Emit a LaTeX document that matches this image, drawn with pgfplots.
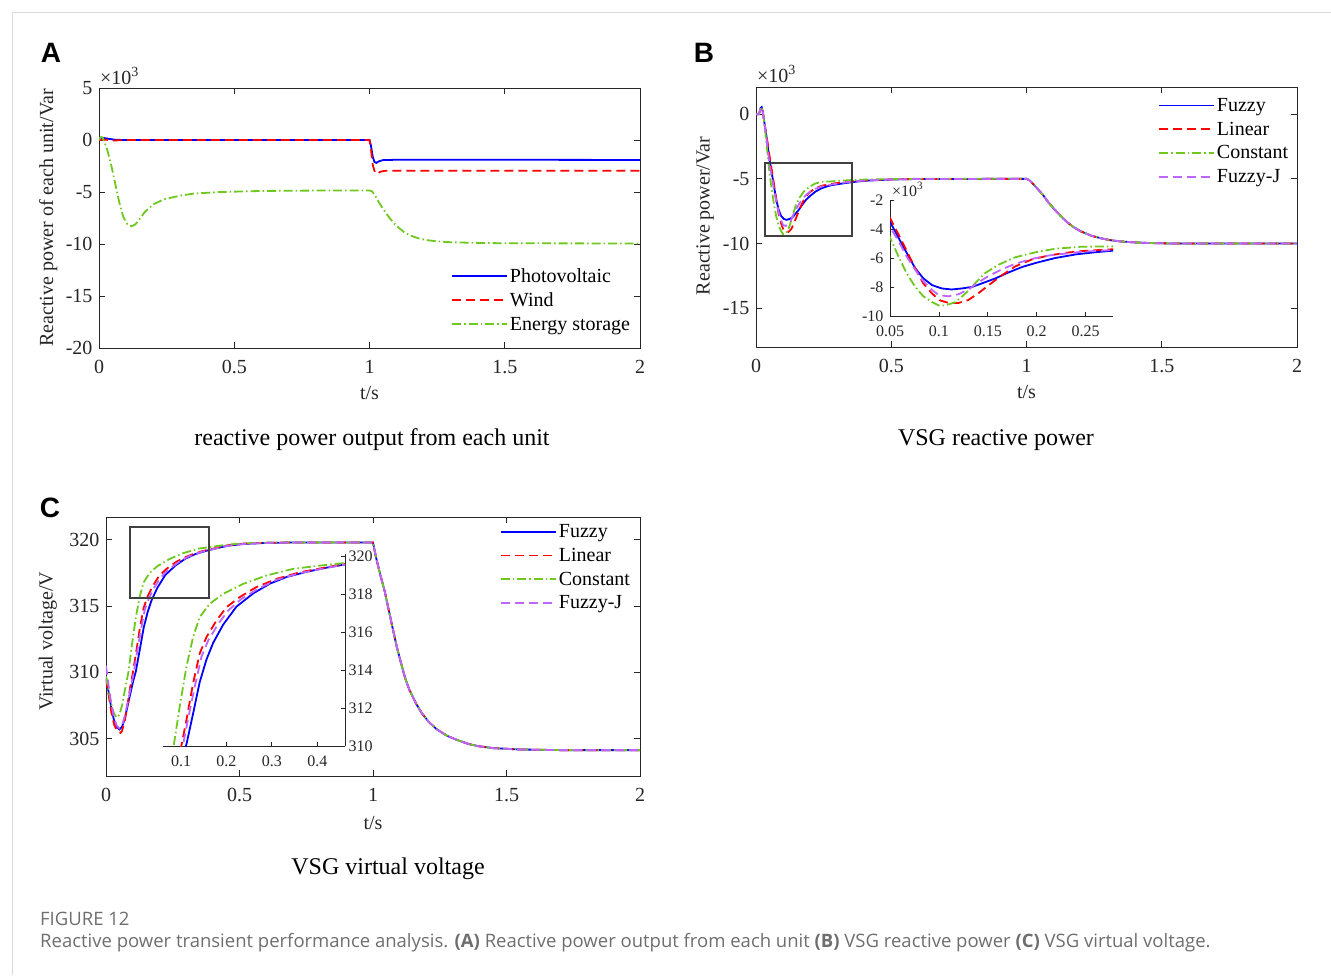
\documentclass[border=0pt]{standalone}
\usepackage{fontspec}
\setmainfont{Liberation Serif}
\newfontfamily\lettfont{Liberation Sans}
\newfontfamily\capfont{Open Sans}
\usepackage{graphicx}
\usepackage{pgfplots}
\usepackage{pgfplotstable}
\pgfplotsset{compat=1.18}

\definecolor{cblue}{RGB}{0,0,255}
\definecolor{cred}{RGB}{255,0,0}
\definecolor{cgreen}{RGB}{110,200,30}
\definecolor{cpurple}{RGB}{190,100,255}
\definecolor{axgray}{RGB}{38,38,38}
\definecolor{capgray}{RGB}{110,110,110}

\pgfplotsset{
  mat/.style={
    scale only axis,
    axis line style={axgray, line width=0.8pt},
    tick style={axgray, line width=0.8pt},
    tick align=inside, major tick length=6pt,
    xtick pos=both, ytick pos=both,
    ticklabel style={font=\fontsize{20}{22}\selectfont, text=axgray},
    xticklabel style={yshift=-9pt},
    yticklabel style={xshift=-3pt},
    label style={font=\fontsize{20}{22}\selectfont, text=axgray},
    /pgf/number format/assume math mode=true,
    /pgf/number format/fixed,
    legend cell align=left,
    legend style={draw=none, fill=none, font=\fontsize{20}{22}\selectfont, row sep=5pt},
    legend image code/.code={\draw[##1] (0pt,0pt) -- (55pt,0pt);},
  },
  inset/.style={
    major tick length=4pt,
    ticklabel style={font=\fontsize{16}{18}\selectfont},
    xticklabel style={yshift=3pt},
  },
  s1/.style={line width=1.8pt, cblue},
  s2/.style={line width=1.8pt, cred, dash pattern=on 9pt off 5pt},
  s3/.style={line width=1.8pt, cgreen, dash pattern=on 9pt off 3pt on 1.5pt off 3pt},
  s4/.style={line width=1.8pt, cpurple, dash pattern=on 9pt off 5pt},
}

% panel B, VSG reactive power (x10^3 Var)
\pgfplotstableread{
t q
0 0
0.01 0
0.014 0.2
0.018 0.5
0.021 0.55
0.025 0.2
0.03 -0.5
0.035 -1.2
0.04 -1.9
0.045 -2.7
0.05 -3.5
0.0585 -4.58
0.067 -5.64
0.0757 -6.7
0.084 -7.4
0.093 -7.87
0.103 -8.1
0.113 -8.17
0.1235 -8.1
0.134 -7.99
0.144 -7.75
0.158 -7.4
0.171 -7.0
0.185 -6.62
0.199 -6.34
0.219 -6.0
0.24 -5.75
0.26 -5.6
0.277 -5.5
0.3 -5.42
0.35 -5.27
0.4 -5.15
0.5 -5.05
0.6 -5.01
1 -5
1.01 -5.1
1.02 -5.3
1.04 -5.75
1.061 -6.25
1.08 -6.8
1.105 -7.4
1.13 -7.95
1.15 -8.35
1.175 -8.75
1.2 -9.05
1.24 -9.4
1.28 -9.62
1.313 -9.75
1.35 -9.84
1.39 -9.9
1.45 -9.96
1.54 -10
2 -10
}\Bfuzzy
\pgfplotstableread{
t q
0 0
0.01 0
0.014 0.2
0.018 0.5
0.021 0.55
0.025 0.2
0.03 -0.5
0.035 -1.2
0.04 -1.85
0.045 -2.5
0.05 -3.24
0.0585 -4.35
0.067 -5.5
0.0757 -6.7
0.084 -7.75
0.093 -8.45
0.101 -8.92
0.11 -9.1
0.12 -9.1
0.13 -8.9
0.14 -8.45
0.151 -7.87
0.165 -7.16
0.178 -6.58
0.195 -6.1
0.212 -5.83
0.23 -5.64
0.246 -5.52
0.277 -5.4
0.3 -5.32
0.35 -5.2
0.4 -5.12
0.5 -5.04
0.6 -5.01
1 -5
1.01 -5.1
1.02 -5.3
1.04 -5.75
1.061 -6.25
1.08 -6.8
1.105 -7.4
1.13 -7.95
1.15 -8.35
1.175 -8.75
1.2 -9.05
1.24 -9.4
1.28 -9.62
1.313 -9.75
1.35 -9.84
1.39 -9.9
1.45 -9.96
1.54 -10
2 -10
}\Blinear
\pgfplotstableread{
t q
0 0
0.01 0
0.014 0.2
0.018 0.5
0.021 0.55
0.025 0.2
0.03 -0.6
0.035 -1.5
0.04 -2.5
0.045 -3.6
0.05 -4.58
0.0585 -5.87
0.067 -7.05
0.0757 -7.98
0.084 -8.64
0.093 -9.04
0.1 -9.28
0.106 -9.28
0.117 -9.04
0.127 -8.45
0.137 -7.75
0.147 -7.05
0.161 -6.46
0.178 -5.95
0.199 -5.6
0.219 -5.36
0.246 -5.22
0.277 -5.2
0.3 -5.16
0.35 -5.1
0.4 -5.06
0.5 -5.02
0.6 -5.0
1 -5
1.01 -5.1
1.02 -5.3
1.04 -5.75
1.061 -6.25
1.08 -6.8
1.105 -7.4
1.13 -7.95
1.15 -8.35
1.175 -8.75
1.2 -9.05
1.24 -9.4
1.28 -9.62
1.313 -9.75
1.35 -9.84
1.39 -9.9
1.45 -9.96
1.54 -10
2 -10
}\Bconst
\pgfplotstableread{
t q
0 0
0.01 0
0.014 0.2
0.018 0.5
0.021 0.55
0.025 0.2
0.03 -0.5
0.035 -1.3
0.04 -2.1
0.045 -3.0
0.05 -3.88
0.0585 -4.8
0.067 -5.9
0.0757 -6.8
0.084 -7.6
0.093 -8.2
0.1 -8.57
0.11 -8.64
0.12 -8.5
0.13 -8.17
0.14 -7.7
0.151 -7.23
0.165 -6.76
0.178 -6.4
0.195 -6.06
0.212 -5.83
0.23 -5.69
0.246 -5.57
0.277 -5.45
0.3 -5.37
0.35 -5.22
0.4 -5.13
0.5 -5.04
0.6 -5.01
1 -5
1.01 -5.1
1.02 -5.3
1.04 -5.75
1.061 -6.25
1.08 -6.8
1.105 -7.4
1.13 -7.95
1.15 -8.35
1.175 -8.75
1.2 -9.05
1.24 -9.4
1.28 -9.62
1.313 -9.75
1.35 -9.84
1.39 -9.9
1.45 -9.96
1.54 -10
2 -10
}\BfuzzyJ

% panel C, VSG virtual voltage (V)
\pgfplotstableread{
t v
0 309.6
0.01 308.5
0.02 307.3
0.03 306.4
0.04 305.9
0.05 305.7
0.06 305.9
0.07 306.5
0.08 307.4
0.09 308.3
0.1 309.2
0.112 310.1
0.1265 311.7
0.141 313.35
0.156 314.55
0.1706 315.42
0.1926 316.38
0.222 317.33
0.259 318.03
0.2956 318.54
0.332 318.89
0.376 319.16
0.42 319.38
0.461 319.55
0.52 319.68
0.6 319.75
0.7 319.78
1 319.78
1.012 318.6
1.028 317.3
1.044 316.1
1.06 314.6
1.075 313.2
1.09 311.85
1.105 310.7
1.12 309.6
1.136 308.7
1.16 307.7
1.182 306.95
1.21 306.25
1.24 305.7
1.28 305.2
1.317 304.9
1.36 304.6
1.393 304.45
1.45 304.3
1.545 304.2
1.7 304.15
2 304.15
}\Cfuzzy
\pgfplotstableread{
t v
0 309.5
0.01 308.3
0.02 307.0
0.03 306.1
0.04 305.65
0.05 305.5
0.055 305.45
0.06 305.6
0.07 306.3
0.08 307.5
0.09 308.8
0.1007 310.0
0.1118 311.36
0.1265 313.29
0.141 314.86
0.156 315.73
0.178 316.6
0.2 317.3
0.229 317.83
0.266 318.36
0.31 318.79
0.362 319.14
0.42 319.4
0.461 319.58
0.52 319.7
0.6 319.76
0.7 319.78
1 319.78
1.012 318.6
1.028 317.3
1.044 316.1
1.06 314.6
1.075 313.2
1.09 311.85
1.105 310.7
1.12 309.6
1.136 308.7
1.16 307.7
1.182 306.95
1.21 306.25
1.24 305.7
1.28 305.2
1.317 304.9
1.36 304.6
1.393 304.45
1.45 304.3
1.545 304.2
1.7 304.15
2 304.15
}\Clinear
\pgfplotstableread{
t v
0 309.7
0.01 308.6
0.02 307.6
0.03 306.9
0.04 306.6
0.05 306.8
0.06 307.5
0.07 308.6
0.0838 310.0
0.097 312.06
0.1118 314.16
0.1265 315.73
0.141 316.78
0.163 317.48
0.1926 318.0
0.237 318.53
0.288 318.97
0.347 319.32
0.406 319.49
0.461 319.63
0.52 319.72
0.6 319.77
0.7 319.78
1 319.78
1.012 318.6
1.028 317.3
1.044 316.1
1.06 314.6
1.075 313.2
1.09 311.85
1.105 310.7
1.12 309.6
1.136 308.7
1.16 307.7
1.182 306.95
1.21 306.25
1.24 305.7
1.28 305.2
1.317 304.9
1.36 304.6
1.393 304.45
1.45 304.3
1.545 304.2
1.7 304.15
2 304.15
}\Cconst
\pgfplotstableread{
t v
0 310.5
0.01 309.0
0.02 307.6
0.03 306.6
0.04 306.0
0.05 305.8
0.06 306.0
0.07 306.7
0.08 307.6
0.09 308.6
0.104 310.0
0.115 311.36
0.13 313.1
0.145 314.7
0.16 315.56
0.182 316.43
0.204 317.13
0.233 317.74
0.27 318.27
0.31 318.74
0.362 319.1
0.42 319.37
0.461 319.55
0.52 319.68
0.6 319.75
0.7 319.78
1 319.78
1.012 318.6
1.028 317.3
1.044 316.1
1.06 314.6
1.075 313.2
1.09 311.85
1.105 310.7
1.12 309.6
1.136 308.7
1.16 307.7
1.182 306.95
1.21 306.25
1.24 305.7
1.28 305.2
1.317 304.9
1.36 304.6
1.393 304.45
1.45 304.3
1.545 304.2
1.7 304.15
2 304.15
}\CfuzzyJ

\begin{document}
\begin{tikzpicture}
\useasboundingbox (0pt,0pt) rectangle (1331pt,-975pt);
\draw[black!15, line width=1pt] (1331pt,-12pt) -- (12pt,-12pt) -- (12pt,-975pt);

% ---------------- A ----------------
\begin{axis}[mat, at={(99pt,-348pt)}, anchor=south west,
  width=541pt, height=260pt,
  xmin=0, xmax=2, ymin=-20, ymax=5,
  xtick={0,0.5,1,1.5,2}, ytick={-20,-15,-10,-5,0,5},
  xlabel={t/s}, ylabel={Reactive power of each unit/Var},
  xlabel style={at={(0.5,-0.173)}, anchor=center},
  ylabel style={at={(-0.094,0.5)}, anchor=center},
  legend style={at={(0.645,0.323)}, anchor=north west}]
\addplot[s1] coordinates {(0,0.15) (0.02,0.18) (0.04,0.1) (0.06,0.02) (0.1,0) (0.5,0) (1.0,0)
  (1.005,-0.5) (1.012,-1.6) (1.018,-2.1) (1.025,-2.2) (1.035,-2.05) (1.05,-1.93) (1.1,-1.9) (1.5,-1.9) (2,-1.92)};
\addlegendentry{Photovoltaic}
\addplot[s2] coordinates {(0,0) (0.02,0.05) (0.05,-0.05) (0.1,0) (1.0,0)
  (1.005,-0.8) (1.012,-2.4) (1.02,-3.1) (1.028,-3.25) (1.04,-3.05) (1.06,-2.95) (2,-2.95)};
\addlegendentry{Wind}
\addplot[s3] coordinates {(0,0) (0.005,0.25) (0.01,0.3) (0.015,0.1) (0.02,-0.2) (0.03,-0.9)
  (0.045,-2.4) (0.06,-4.2) (0.075,-6.0) (0.09,-7.4) (0.105,-8.1) (0.12,-8.3) (0.135,-8.1)
  (0.15,-7.6) (0.17,-6.9) (0.2,-6.2) (0.24,-5.7) (0.3,-5.35) (0.35,-5.15) (0.45,-5.0)
  (0.6,-4.9) (0.8,-4.86) (1.0,-4.85) (1.01,-4.95) (1.02,-5.3) (1.037,-6.1) (1.055,-6.8)
  (1.074,-7.5) (1.09,-8.0) (1.111,-8.5) (1.13,-8.9) (1.148,-9.15) (1.18,-9.45) (1.21,-9.62)
  (1.25,-9.75) (1.3,-9.83) (1.37,-9.88) (1.5,-9.93) (2,-9.95)};
\addlegendentry{Energy storage}
\end{axis}

% ---------------- B ----------------
\begin{axis}[mat, at={(756pt,-347pt)}, anchor=south west,
  width=541pt, height=260pt,
  xmin=0, xmax=2, ymin=-18, ymax=2.1,
  xtick={0,0.5,1,1.5,2}, ytick={-15,-10,-5,0},
  xlabel={t/s}, ylabel={Reactive power/Var},
  xlabel style={at={(0.5,-0.173)}, anchor=center},
  ylabel style={at={(-0.094,0.504)}, anchor=center},
  legend style={at={(0.7375,0.973)}, anchor=north west}]
\addplot[s1] table[x=t,y=q] {\Bfuzzy};
\addlegendentry{Fuzzy}
\addplot[s2] table[x=t,y=q] {\Blinear};
\addlegendentry{Linear}
\addplot[s3] table[x=t,y=q] {\Bconst};
\addlegendentry{Constant}
\addplot[s4] table[x=t,y=q] {\BfuzzyJ};
\addlegendentry{Fuzzy-J}
\end{axis}

% B inset
\begin{axis}[mat, inset, at={(890pt,-316pt)}, anchor=south west,
  width=223pt, height=116pt,
  axis x line*=bottom, axis y line*=left,
  xmin=0.05, xmax=0.278, ymin=-10, ymax=-2,
  xtick={0.05,0.1,0.15,0.2,0.25}, ytick={-10,-8,-6,-4,-2},
  xticklabels={0.05,0.1,0.15,0.2,0.25}]
\addplot[s1] table[x=t,y=q] {\Bfuzzy};
\addplot[s2] table[x=t,y=q] {\Blinear};
\addplot[s3] table[x=t,y=q] {\Bconst};
\addplot[s4] table[x=t,y=q] {\BfuzzyJ};
\end{axis}

% ---------------- C ----------------
\begin{axis}[mat, at={(106pt,-776pt)}, anchor=south west,
  width=534pt, height=259pt,
  xmin=0, xmax=2, ymin=302.2, ymax=321.7,
  xtick={0,0.5,1,1.5,2}, ytick={305,310,315,320},
  xlabel={t/s}, ylabel={Virtual voltage/V},
  xlabel style={at={(0.5,-0.18)}, anchor=center},
  ylabel style={at={(-0.109,0.52)}, anchor=center},
  legend style={at={(0.732,0.987)}, anchor=north west}]
\addplot[s1] table[x=t,y=v] {\Cfuzzy};
\addlegendentry{Fuzzy}
\addplot[s2] table[x=t,y=v] {\Clinear};
\addlegendentry{Linear}
\addplot[s3] table[x=t,y=v] {\Cconst};
\addlegendentry{Constant}
\addplot[s4] table[x=t,y=v] {\CfuzzyJ};
\addlegendentry{Fuzzy-J}
\end{axis}

% C inset
\begin{axis}[mat, inset, at={(163pt,-746pt)}, anchor=south west,
  width=182pt, height=192pt,
  axis x line*=bottom, axis y line*=right,
  ytick pos=right, yticklabel pos=right,
  yticklabel style={xshift=3pt},
  xmin=0.0603, xmax=0.461, ymin=310, ymax=320.1,
  xtick={0.1,0.2,0.3,0.4}, ytick={310,312,314,316,318,320},
  xticklabels={0.1,0.2,0.3,0.4}]
\addplot[s1] table[x=t,y=v] {\Cfuzzy};
\addplot[s2] table[x=t,y=v] {\Clinear};
\addplot[s3] table[x=t,y=v] {\Cconst};
\addplot[s4] table[x=t,y=v] {\CfuzzyJ};
\end{axis}

% zoom boxes
\draw[black!75, line width=1.1pt] (765pt,-163pt) rectangle (852pt,-236pt);
\draw[black!75, line width=1.1pt] (130pt,-527pt) rectangle (209pt,-598pt);

% scale factors
\node[anchor=base west, inner sep=0pt, text=axgray, font=\fontsize{20}{22}\selectfont] at (100pt,-84pt) {×10\textsuperscript{3}};
\node[anchor=base west, inner sep=0pt, text=axgray, font=\fontsize{20}{22}\selectfont] at (757pt,-82pt) {×10\textsuperscript{3}};
\node[anchor=base west, inner sep=0pt, text=axgray, font=\fontsize{16}{18}\selectfont] at (892pt,-196pt) {×10\textsuperscript{3}};

% panel letters
\node[font=\lettfont\bfseries\fontsize{28}{30}\selectfont] at (51pt,-53pt) {A};
\node[font=\lettfont\bfseries\fontsize{28}{30}\selectfont] at (704pt,-53pt) {B};
\node[font=\lettfont\bfseries\fontsize{28}{30}\selectfont] at (50pt,-508pt) {C};

% sub titles
\node[font=\fontsize{24}{26}\selectfont] at (372pt,-440pt) {reactive power output from each unit};
\node[font=\fontsize{24}{26}\selectfont] at (996pt,-440pt) {VSG reactive power};
\node[font=\fontsize{24}{26}\selectfont] at (388pt,-869pt) {VSG virtual voltage};

% caption
\node[anchor=west, inner sep=0pt, text=capgray, font=\capfont\fontsize{18.5}{20}\selectfont] at (40pt,-919pt) {FIGURE 12};
\node[anchor=west, inner sep=0pt, text=capgray, font=\capfont\fontsize{18.5}{20}\selectfont] at (40pt,-943pt)
  {Reactive power transient performance analysis. \textbf{(A)} Reactive power output from each unit \textbf{(B)} VSG reactive power \textbf{(C)} VSG virtual voltage.};
\end{tikzpicture}
\end{document}
